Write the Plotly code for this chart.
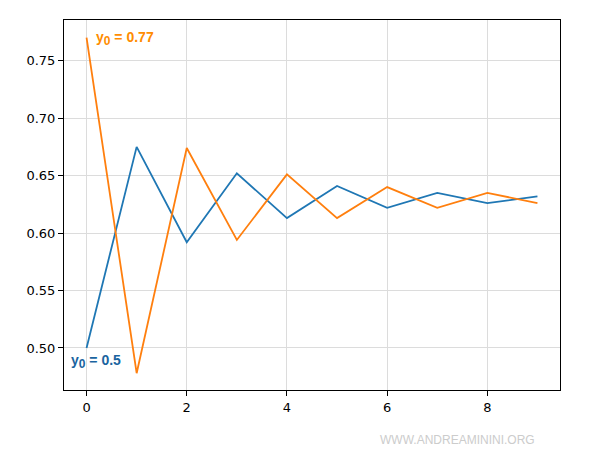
import plotly.graph_objects as go

n = list(range(10))
y_a = [0.5, 0.675, 0.592, 0.652, 0.613, 0.641, 0.622, 0.635, 0.626, 0.632]
y_b = [0.77, 0.478, 0.674, 0.594, 0.651, 0.613, 0.640, 0.622, 0.635, 0.626]
x_ticks = [0, 2, 4, 6, 8]
y_ticks = [0.50, 0.55, 0.60, 0.65, 0.70, 0.75]

fig = go.Figure()
fig.add_trace(go.Scatter(x=n, y=y_a, mode="lines", line=dict(color="#1f77b4", width=1.8)))
fig.add_trace(go.Scatter(x=n, y=y_b, mode="lines", line=dict(color="#ff7f0e", width=1.8)))

fig.add_annotation(x=0.15, y=0.7695, text="<b>y<sub><span style='font-size:12px'>0</span></sub> = 0.77</b>", showarrow=False,
                   xanchor="left", yanchor="middle", font=dict(color="#ff8c00", size=14, family="Liberation Sans"))
fig.add_annotation(x=-0.35, y=0.4885, text="<b>y<sub><span style='font-size:12px'>0</span></sub> = 0.5</b>", showarrow=False,
                   xanchor="left", yanchor="middle", font=dict(color="#1a64a0", size=14, family="Liberation Sans"))
fig.add_annotation(x=1.0 - (560 - 537) / 496.0, y=-(440 - 390) / 370.0, xref="paper", yref="paper",
                   text="WWW.ANDREAMININI.ORG", showarrow=False, xanchor="right", yanchor="middle",
                   font=dict(color="#cccccc", size=12, family="Liberation Sans"))

axis_common = dict(showline=True, linecolor="black", linewidth=1, mirror=True,
                   ticks="outside", ticklen=5, tickcolor="black", tickwidth=1,
                   showgrid=True, gridcolor="#dcdcdc", gridwidth=0.8, zeroline=False,
                   tickfont=dict(family="DejaVu Sans", size=13, color="black"))
fig.update_xaxes(range=[-0.45, 9.45], tickvals=x_ticks, ticktext=[str(v) for v in x_ticks], **axis_common)
fig.update_yaxes(range=[0.4634, 0.7854], tickvals=y_ticks, ticktext=["%.2f" % v for v in y_ticks], **axis_common)

fig.update_layout(width=600, height=460, margin=dict(l=64, r=40, t=20, b=70),
                  plot_bgcolor="white", paper_bgcolor="white", showlegend=False)
fig.write_html("out.html")
